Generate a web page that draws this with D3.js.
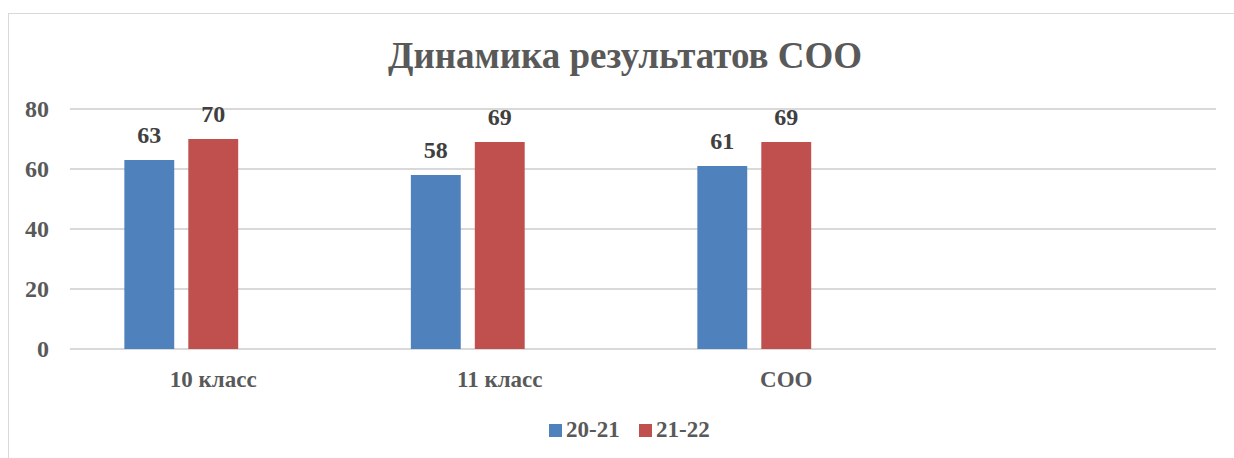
<!DOCTYPE html>
<html><head><meta charset="utf-8">
<script src="https://cdn.jsdelivr.net/npm/d3@7"></script>
<style>html,body{margin:0;padding:0;background:#fff;}svg{display:block;}</style>
</head><body>
<script>
const categories = ["10 класс", "11 класс", "СОО", ""];
const seriesNames = ["20-21", "21-22", ""];
const values2021 = [63, 58, 61, null];
const values2122 = [70, 69, 69, null];
const valuesEmpty = [null, null, null, null];
const yTicks = [0, 20, 40, 60, 80];
const colors = ["#4f81bd", "#c0504d", "#9bbb59"];

(function () {
const W = 1234, H = 458;
const font = "'Liberation Serif','Times New Roman',serif";
const svg = d3.select("body").append("svg").attr("width", W).attr("height", H);

// chart frame
svg.append("rect").attr("x", 8.5).attr("y", 13.5).attr("width", W + 10).attr("height", H + 10)
  .attr("fill", "#fff").attr("stroke", "#d9d9d9").attr("stroke-width", 1);

const mLeft = 70, mRight = 1216, mTop = 109, mBottom = 349;
const x0 = d3.scaleBand().domain(categories).range([mLeft, mRight]).paddingInner(0).paddingOuter(0);
const x1 = d3.scaleBand().domain(seriesNames).range([0, x0.bandwidth()]).paddingInner(0.22).paddingOuter(0.85);
const y = d3.scaleLinear().domain([0, 80]).range([mBottom, mTop]);

// gridlines
svg.append("g").selectAll("line").data(yTicks).join("line")
  .attr("x1", mLeft).attr("x2", mRight)
  .attr("y1", d => y(d)).attr("y2", d => y(d))
  .attr("stroke", "#d9d9d9").attr("stroke-width", 2);

// y tick labels
svg.append("g").selectAll("text").data(yTicks).join("text")
  .attr("x", 49).attr("y", d => y(d)).attr("dy", "0.35em")
  .attr("text-anchor", "end")
  .attr("font-family", font).attr("font-weight", "bold").attr("font-size", 24)
  .attr("fill", "#595959").text(d => d);

const series = [values2021, values2122, valuesEmpty];
const rows = [];
series.forEach((vals, si) => vals.forEach((v, ci) => {
  if (v != null && categories[ci] !== "") rows.push({s: seriesNames[si], si, c: categories[ci], v});
}));

svg.append("g").selectAll("rect").data(rows).join("rect")
  .attr("x", d => x0(d.c) + x1(d.s))
  .attr("y", d => y(d.v))
  .attr("width", x1.bandwidth())
  .attr("height", d => y(0) - y(d.v))
  .attr("fill", d => colors[d.si]);

svg.append("g").selectAll("text").data(rows).join("text")
  .attr("x", d => x0(d.c) + x1(d.s) + x1.bandwidth() / 2)
  .attr("y", d => y(d.v) - 17)
  .attr("text-anchor", "middle")
  .attr("font-family", font).attr("font-weight", "bold").attr("font-size", 24)
  .attr("fill", "#404040").text(d => d.v);

// x labels
svg.append("g").selectAll("text").data(categories).join("text")
  .attr("x", d => x0(d) + x0.bandwidth() / 2)
  .attr("y", 387)
  .attr("text-anchor", "middle")
  .attr("font-family", font).attr("font-weight", "bold").attr("font-size", 23)
  .attr("fill", "#595959").text(d => d);

// title
svg.append("text").attr("x", 625).attr("y", 68).attr("text-anchor", "middle")
  .attr("font-family", font).attr("font-weight", "bold").attr("font-size", 37)
  .attr("fill", "#595959").text("Динамика результатов СОО");

// legend
const legendItems = [{name: "20-21", x: 549, c: colors[0]}, {name: "21-22", x: 639, c: colors[1]}];
const lg = svg.append("g").selectAll("g").data(legendItems).join("g")
  .attr("transform", d => `translate(${d.x},424)`);
lg.append("rect").attr("width", 13).attr("height", 13).attr("fill", d => d.c);
lg.append("text").attr("x", 17).attr("y", 13)
  .attr("font-family", font).attr("font-weight", "bold").attr("font-size", 23)
  .attr("fill", "#595959").text(d => d.name);
})();
</script>
</body></html>
